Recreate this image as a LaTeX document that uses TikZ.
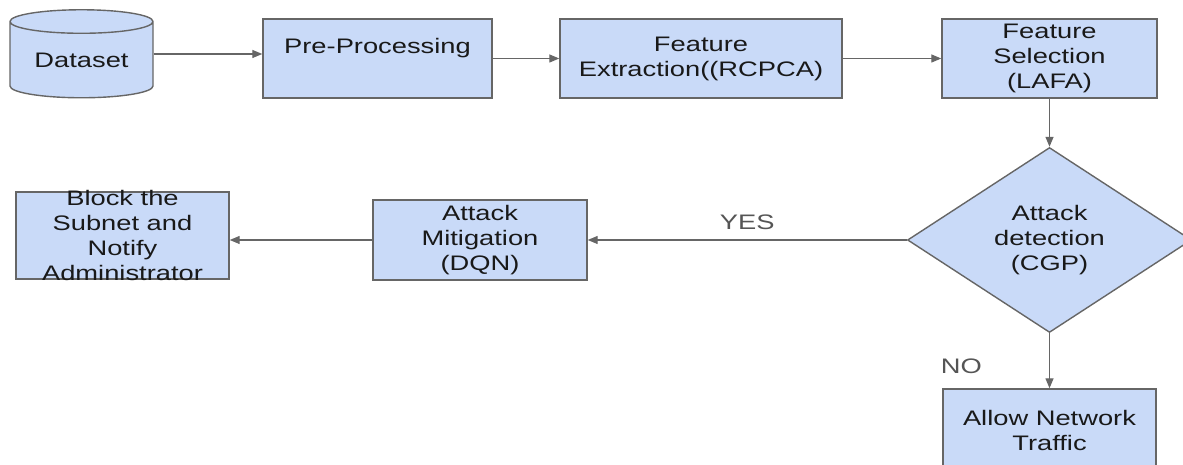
\documentclass[tikz,border=0pt]{standalone}
\usepackage{fontspec}
\setmainfont{Liberation Sans}[FakeStretch=1.3]
\usepackage{xcolor}
\usetikzlibrary{positioning, arrows.meta, shapes.geometric}

\definecolor{boxblue}{RGB}{201,218,248}
\definecolor{edgegray}{RGB}{102,102,102}
\definecolor{labelgray}{RGB}{85,85,85}

\begin{document}
\begin{tikzpicture}[
            x=1pt, y=1pt,
            font=\fontsize{21}{25}\selectfont,
            box/.style={rectangle, draw=edgegray, fill=boxblue, line width=1.4pt,
                text=black!90, align=center, inner sep=0pt},
            arr/.style={draw=edgegray, line width=1.3pt,
                -{Triangle[length=10pt, width=8pt]}},
            lbl/.style={text=labelgray, inner sep=0pt},
        ]
            \useasboundingbox (0,0) rectangle (1183,465);

            \node[box, cylinder, shape border rotate=90, aspect=0.25,
                minimum width=143pt, minimum height=88pt] (data) at (81.5,405) {Dataset};
            \node[box, minimum width=229pt, minimum height=79pt] (pre) at (377.5,406.5) {Pre-Processing\\ ~};
            \node[box, minimum width=282pt, minimum height=79pt] (fext) at (701,406.5) {Feature\\Extraction((RCPCA)};
            \node[box, minimum width=215pt, minimum height=79pt] (fsel) at (1049.5,406.5) {Feature\\Selection\\(LAFA)};
            \node[box, diamond, minimum width=284pt, minimum height=185pt] (detect) at (1049.5,225) {Attack\\detection\\(CGP)};
            \node[box, minimum width=214pt, minimum height=80pt] (mitig) at (480,225) {Attack\\Mitigation\\(DQN)};
            \node[box, minimum width=213pt, minimum height=87pt, inner ysep=-6pt] (block) at (122.5,229.5) {Block the\\Subnet and\\Notify\\Administrator};
            \node[box, minimum width=213pt, minimum height=82pt] (allow) at (1049.5,35) {Allow Network\\Traffic};

            \draw[arr] ([yshift=6pt]data.east) -- ([yshift=6pt]data.east -| pre.west);
            \draw[arr] (pre) -- (fext);
            \draw[arr] (fext) -- (fsel);
            \draw[arr] (fsel) -- (detect);
            \draw[arr] (detect) -- node[lbl, above=10pt] {YES} (mitig);
            \draw[arr] (mitig.west) -- (mitig.west -| block.east);
            \draw[arr] (detect) -- node[lbl, pos=0.6, left=67pt] {NO} (allow);
        \end{tikzpicture}
\end{document}
